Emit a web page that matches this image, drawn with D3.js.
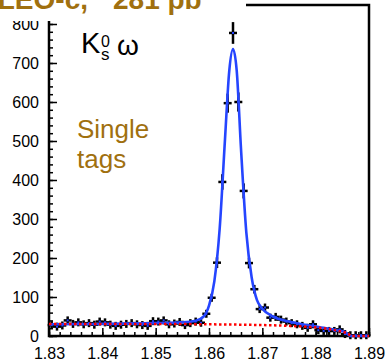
<!DOCTYPE html>
<html>
<head>
<meta charset="utf-8">
<script src="https://cdn.jsdelivr.net/npm/d3@7"></script>
<style>
  body { margin: 0; background: #fff; }
  svg { display: block; }
  .axis text { font-family: "Liberation Sans", Arial, sans-serif; font-size: 16px; fill: #000; }
</style>
</head>
<body>
<div id="chart"></div>
<script>
// D -> Ks omega single tag mass spectrum (beam-constrained mass, GeV)

var massBins = [1.8305, 1.8315, 1.8325, 1.8335, 1.8345, 1.8355, 1.8365, 1.8375, 1.8385, 1.8395,
                1.8405, 1.8415, 1.8425, 1.8435, 1.8445, 1.8455, 1.8465, 1.8475, 1.8485, 1.8495,
                1.8505, 1.8515, 1.8525, 1.8535, 1.8545, 1.8555, 1.8565, 1.8575, 1.8585, 1.8595,
                1.8605, 1.8615, 1.8625, 1.8635, 1.8645, 1.8655, 1.8665, 1.8675, 1.8685, 1.8695,
                1.8705, 1.8715, 1.8725, 1.8735, 1.8745, 1.8755, 1.8765, 1.8775, 1.8785, 1.8795,
                1.8805, 1.8815, 1.8825, 1.8835, 1.8845, 1.8855, 1.8865, 1.8875, 1.8885, 1.8895];

var counts = [28, 24, 27, 40, 31, 35, 30, 33, 29, 37,
              35, 29, 26, 29, 31, 33, 30, 28, 26, 38,
              37, 40, 30, 32, 36, 28, 33, 37, 34, 57,
              98, 188, 395, 597, 777, 600, 372, 187, 120, 69,
              73, 47, 49, 42, 37, 33, 30, 26, 21, 30,
              15, 13, 13, 13, 17, 5, 2, 2, 2, 2];

// fit curve
var fitMass  = [1.830, 1.840, 1.850, 1.855, 1.8575, 1.859, 1.860, 1.861, 1.862, 1.863, 1.8638, 1.8645,
                1.8652, 1.866, 1.867, 1.868, 1.869, 1.870, 1.872, 1.875, 1.878, 1.881, 1.884, 1.8855, 1.8865, 1.890];
var fitTotal = [30, 31, 33, 35, 39, 50, 78, 140, 275, 505, 680, 736,
                680, 480, 265, 150, 92, 70, 50, 37, 29, 22, 15, 10, 0, 0];

var bgMass = [1.830, 1.840, 1.850, 1.860, 1.870, 1.875, 1.879, 1.882, 1.884, 1.8855, 1.8862, 1.8866, 1.890];
var bgVal  = [31, 31, 31, 30, 28, 26, 23, 19, 14, 9, 5, 0, 0];

var xTicks = [1.83, 1.84, 1.85, 1.86, 1.87, 1.88, 1.89];
var yTicks = [0, 100, 200, 300, 400, 500, 600, 700, 800];

var margin = { top: 5, left: 49, right: 16, bottom: 28 };
var width = 385 - margin.left - margin.right;
var height = 364 - margin.top - margin.bottom;

var svg = d3.select("#chart").append("svg")
    .attr("width", 385)
    .attr("height", 364);

var g = svg.append("g")
    .attr("transform", "translate(" + margin.left + "," + margin.top + ")");

var x = d3.scaleLinear()
    .domain([1.83, 1.89])
    .range([0, width]);

var y = d3.scaleLinear()
    .domain([0, 848.7])
    .range([height, 0]);

var gold = "#a0700f";

// minor ticks first
g.append("g")
    .attr("class", "axis")
    .attr("transform", "translate(0," + height + ")")
    .call(d3.axisBottom(x).ticks(30).tickSize(-4).tickFormat(""))
    .call(function(a) { a.select(".domain").remove(); a.selectAll("line").attr("stroke-width", 1.5); });

g.append("g")
    .attr("class", "axis")
    .call(d3.axisLeft(y).tickValues(d3.range(0, 841, 20)).tickSize(-4).tickFormat(""))
    .call(function(a) { a.select(".domain").remove(); a.selectAll("line").attr("stroke-width", 1.5); });

g.append("g")
    .attr("class", "axis")
    .attr("transform", "translate(0," + height + ")")
    .call(d3.axisBottom(x).tickValues(xTicks).tickSize(-8).tickPadding(12).tickFormat(d3.format(".2f")))
    .call(function(a) { a.select(".domain").remove(); a.selectAll("line").attr("stroke-width", 1.5); });

g.append("g")
    .attr("class", "axis")
    .call(d3.axisLeft(y).tickValues(yTicks).tickSize(-8).tickPadding(10))
    .call(function(a) { a.select(".domain").remove(); a.selectAll("line").attr("stroke-width", 1.5); });

// frame
g.append("rect")
    .attr("width", width)
    .attr("height", height)
    .attr("fill", "none")
    .attr("stroke", "#000")
    .attr("stroke-width", 2.5);

// data points
var pts = g.append("g").selectAll("g")
    .data(massBins.map(function(m, i) { return { m: m, n: counts[i] }; }))
  .enter().append("g")
    .attr("transform", function(d) { return "translate(" + x(d.m) + "," + y(d.n) + ")"; });

pts.append("line")
    .attr("x1", -4).attr("x2", 4)
    .attr("stroke", "#000").attr("stroke-width", 2.5);

pts.append("line")
    .attr("y1", function(d) { return -Math.max(4, y(0) - y(Math.sqrt(d.n))); })
    .attr("y2", function(d) { return Math.max(4, y(0) - y(Math.sqrt(d.n))); })
    .attr("stroke", "#000").attr("stroke-width", 2.5);

pts.append("rect")
    .attr("x", -1).attr("y", -1)
    .attr("width", 2).attr("height", 2)
    .attr("fill", "#2040ff");

// fit curves
var line = d3.line()
    .x(function(d) { return x(d[0]); })
    .y(function(d) { return y(d[1]); })
    .curve(d3.curveMonotoneX);

g.append("path")
    .datum(fitMass.map(function(m, i) { return [m, fitTotal[i]]; }))
    .attr("d", line)
    .attr("fill", "none")
    .attr("stroke", "#2545ff")
    .attr("stroke-width", 2.6);

g.append("path")
    .datum(bgMass.map(function(m, i) { return [m, bgVal[i]]; }))
    .attr("d", line)
    .attr("fill", "none")
    .attr("stroke", "#ff0000")
    .attr("stroke-width", 2.5)
    .attr("stroke-dasharray", "2.5,2.5");

// title box covers the top left of the frame
svg.append("rect")
    .attr("x", 0).attr("y", 0)
    .attr("width", 246).attr("height", 21)
    .attr("fill", "#fff");

svg.append("text")
    .attr("x", 88).attr("y", 9)
    .attr("text-anchor", "end")
    .style("font", "bold 28px 'Liberation Sans', Arial, sans-serif")
    .style("fill", gold)
    .text("CLEO-c,");

svg.append("text")
    .attr("x", 113).attr("y", 9)
    .style("font", "bold 28px 'Liberation Sans', Arial, sans-serif")
    .style("fill", gold)
    .text("281 pb⁻¹");

// channel label
var lab = svg.append("g").style("font-family", "'Liberation Sans', Arial, sans-serif");
var ch = lab.append("text").attr("x", 81).attr("y", 53).style("font-size", "29px");
ch.append("tspan").text("K");
ch.append("tspan").attr("x", 101).attr("y", 47).style("font-size", "16px").text("0");
ch.append("tspan").attr("x", 101).attr("y", 60).style("font-size", "17px").text("s");
ch.append("tspan").attr("x", 117).attr("y", 55).style("font-size", "28px").text("ω");

lab.append("text").attr("x", 77).attr("y", 138).style("font-size", "26px").style("fill", gold).text("Single");
lab.append("text").attr("x", 77).attr("y", 168).style("font-size", "26px").style("fill", gold).text("tags");
</script>
</body>
</html>
